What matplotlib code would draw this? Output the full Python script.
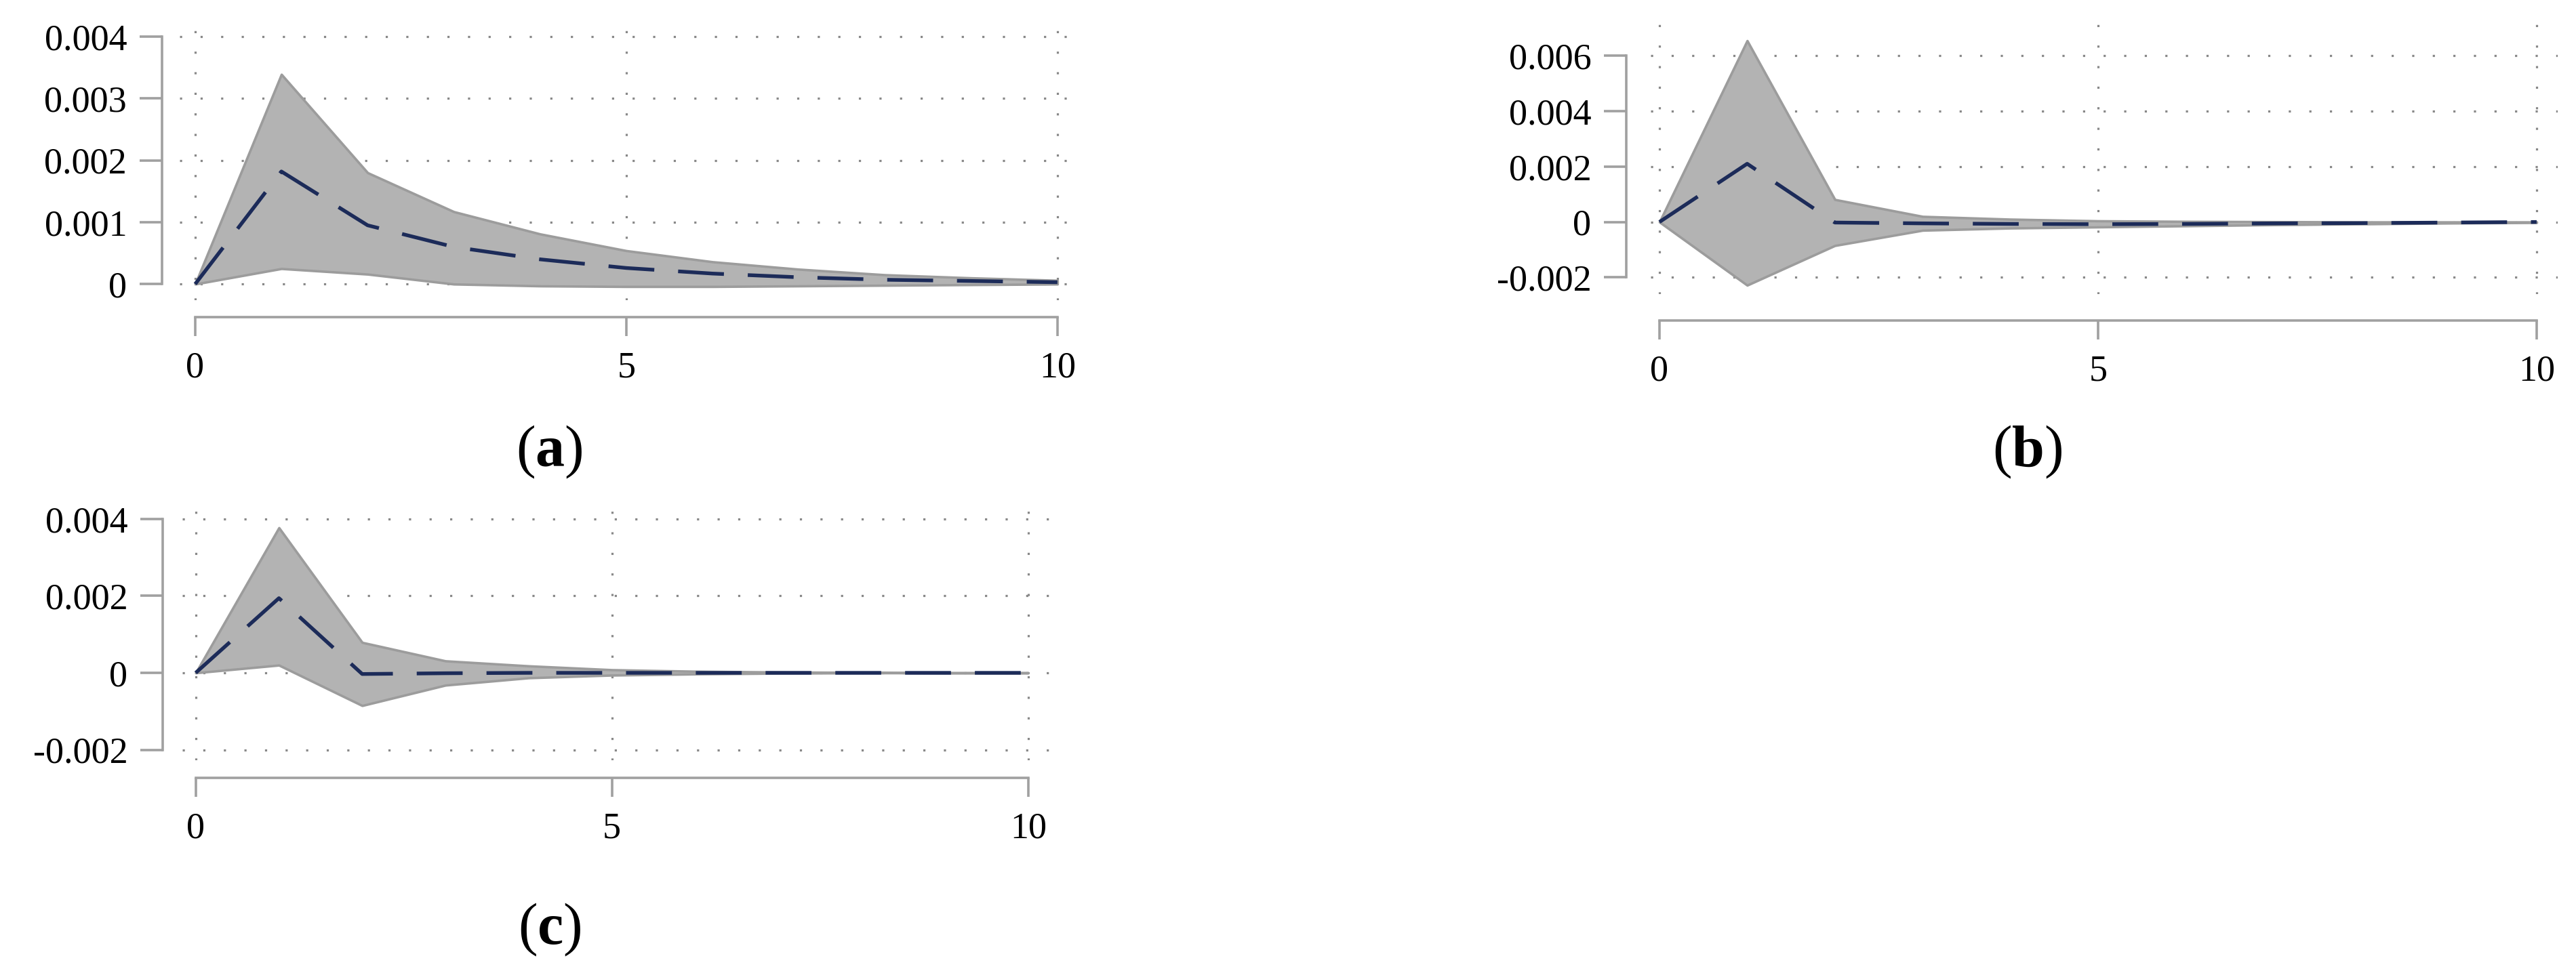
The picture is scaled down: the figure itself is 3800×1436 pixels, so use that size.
import matplotlib
matplotlib.use("Agg")
import matplotlib.pyplot as plt

plt.rcParams['font.family'] = ['Liberation Serif', 'DejaVu Serif']
plt.rcParams['mathtext.fontset'] = 'custom'
plt.rcParams['mathtext.rm'] = 'Liberation Serif'
plt.rcParams['mathtext.bf'] = 'Liberation Serif:bold'

# horizon (periods)
periods = list(range(11))

# panel (a)
a_upper = [0, 0.00339, 0.0018, 0.00117, 0.00081, 0.00054, 0.00036, 0.00024, 0.00015, 0.0001, 0.00006]
a_mean = [0, 0.00182, 0.00095, 0.0006, 0.0004, 0.00026, 0.00017, 0.00011, 0.00007, 0.00005, 0.00003]
a_lower = [0, 0.00025, 0.00016, 0.0, -0.00003, -0.00004, -0.00004, -0.00003, -0.00002, -0.00001, 0.0]
a_yticks = [0, 0.001, 0.002, 0.003, 0.004]
a_ylabels = ["0", "0.001", "0.002", "0.003", "0.004"]

# panel (b)
b_upper = [0, 0.00654, 0.00081, 0.0002, 0.0001, 0.00004, 0.00002, 0.00001, 0.0, 0.0, 0.0]
b_mean = [0, 0.0021, -0.00002, -0.00005, -0.00007, -0.00008, -0.00007, -0.00005, -0.00004, -0.00002, 0.0]
b_lower = [0, -0.00228, -0.00085, -0.0003, -0.00022, -0.00018, -0.00014, -0.0001, -0.00007, -0.00004, -0.00002]
b_yticks = [-0.002, 0, 0.002, 0.004, 0.006]
b_ylabels = ["-0.002", "0", "0.002", "0.004", "0.006"]

# panel (c)
c_upper = [0, 0.00377, 0.00079, 0.00031, 0.00018, 0.00008, 0.00004, 0.00002, 0.00001, 0.0, 0.0]
c_mean = [0, 0.00194, -0.00003, -0.00001, 0.0, 0.0, 0.0, 0.0, 0.0, 0.0, 0.0]
c_lower = [0, 0.0002, -0.00085, -0.00032, -0.00013, -0.00006, -0.00003, -0.00001, 0.0, 0.0, 0.0]
c_yticks = [-0.002, 0, 0.002, 0.004]
c_ylabels = ["-0.002", "0", "0.002", "0.004"]

xticks = [0, 5, 10]
panel_names = ["a", "b", "c"]

W, H = 3800, 1436
fig = plt.figure(figsize=(W / 100, H / 100), dpi=100)

GREY = "#a0a0a0"
FILL = "#b3b3b3"
NAVY = "#1c2b59"


def px_axes(left, top, right, bottom):
    return fig.add_axes([left / W, 1 - bottom / H, (right - left) / W, (bottom - top) / H])


def panel(ax, upper, mean, lower, yticks, ylabels, xlim, ylim, lout, bout):
    ax.fill_between(periods, lower, upper, facecolor=FILL, edgecolor="#9c9c9c",
                    linewidth=2.6, zorder=2)
    ax.plot(periods, mean, color=NAVY, linewidth=3.9, dashes=(12.5, 6.5), zorder=3)
    ax.set_xlim(*xlim)
    ax.set_ylim(*ylim)
    ax.set_xticks(xticks)
    ax.set_xticklabels([str(t) for t in xticks])
    ax.set_yticks(yticks)
    ax.set_yticklabels(ylabels)
    for s in ["top", "right"]:
        ax.spines[s].set_visible(False)
    ax.spines["left"].set_position(("outward", lout))
    ax.spines["bottom"].set_position(("outward", bout))
    ax.spines["left"].set_bounds(min(yticks), max(yticks))
    ax.spines["bottom"].set_bounds(0, 10)
    for s in ["left", "bottom"]:
        ax.spines[s].set_color(GREY)
        ax.spines[s].set_linewidth(2.6)
    ax.tick_params(axis="y", direction="out", length=24, width=2.6, color=GREY,
                   labelsize=39, pad=13)
    ax.tick_params(axis="x", direction="out", length=20, width=2.6, color=GREY,
                   labelsize=39, pad=16)
    ax.grid(True, color="#888888", linewidth=2.3, linestyle=(0, (1, 8.5)))
    ax.set_axisbelow(True)
    ax.set_facecolor("none")


ax_a = px_axes(265, 33, 1598, 443)
panel(ax_a, a_upper, a_mean, a_lower, a_yticks, a_ylabels,
      (-0.18, 10.3), (-0.00026, 0.00423), 19, 18)

ax_b = px_axes(2435, 33, 3773, 434)
panel(ax_b, b_upper, b_mean, b_lower, b_yticks, b_ylabels,
      (-0.1, 10.24), (-0.0026, 0.0072), 26, 28)

ax_c = px_axes(269, 747, 1550, 1122)
panel(ax_c, c_upper, c_mean, c_lower, c_yticks, c_ylabels,
      (-0.16, 10.27), (-0.00227, 0.00433), 21, 19)

label_pos = [(810, 667), (2991, 667), (811, 1372)]
for name, (lx, ly) in zip(panel_names, label_pos):
    fig.text(lx / W, 1 - ly / H, r"($\mathbf{%s}$)" % name, fontsize=62,
             ha="center", va="center")

fig.savefig("out.png", dpi=100, facecolor="white")
